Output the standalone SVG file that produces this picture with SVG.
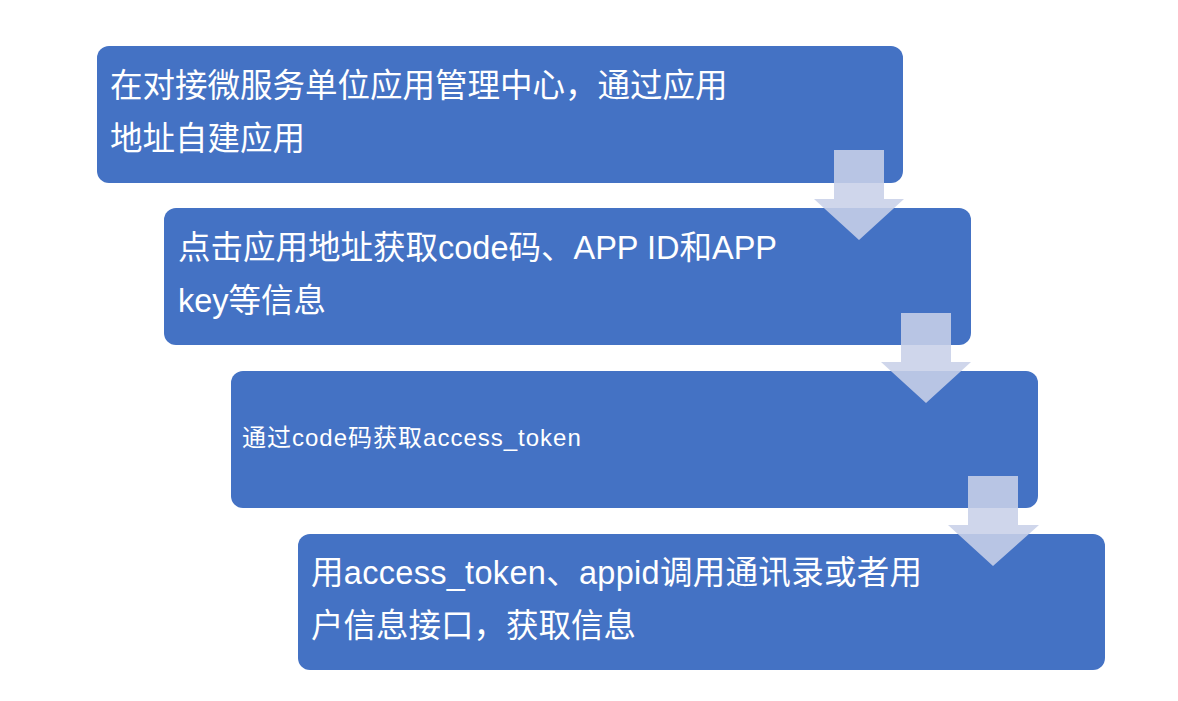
<svg xmlns="http://www.w3.org/2000/svg" width="1178" height="701" viewBox="0 0 1178 701">
<style>
.box{fill:#4472C4;}
.t{fill:#ffffff;font-family:"Liberation Sans","Noto Sans CJK SC",sans-serif;font-size:32.5px;}
.s{font-size:24px;letter-spacing:1px;}
.arr{fill:#c8d0e8;fill-opacity:0.88;}
</style>
<rect width="1178" height="701" fill="#ffffff"/>
<g id="node1">
<rect class="box" x="97" y="46" width="806" height="137" rx="12"/>
<text class="t" x="110" y="97">在对接微服务单位应用管理中心，通过应用</text>
<text class="t" x="110" y="150">地址自建应用</text>
</g>
<g id="node2">
<rect class="box" x="164" y="208" width="807" height="137" rx="12"/>
<text class="t" x="178" y="259">点击应用地址获取code码、APP ID和APP</text>
<text class="t" x="178" y="312">key等信息</text>
</g>
<g id="node3">
<rect class="box" x="231" y="371" width="807" height="137" rx="12"/>
<text class="t s" x="242" y="446">通过code码获取access_token</text>
</g>
<g id="node4">
<rect class="box" x="298" y="534" width="807" height="136" rx="12"/>
<text class="t" x="311" y="584" letter-spacing="0.3">用access_token、appid调用通讯录或者用</text>
<text class="t" x="311" y="637">户信息接口，获取信息</text>
</g>
<g id="connectors">
<polygon class="arr" points="834,150 884,150 884,199 904,199 859,240 814,199 834,199"/>
<polygon class="arr" points="901,313 951,313 951,362 971,362 926,403 881,362 901,362"/>
<polygon class="arr" points="968,476 1018,476 1018,525 1039,525 993,566 948,525 968,525"/>
</g>
</svg>
